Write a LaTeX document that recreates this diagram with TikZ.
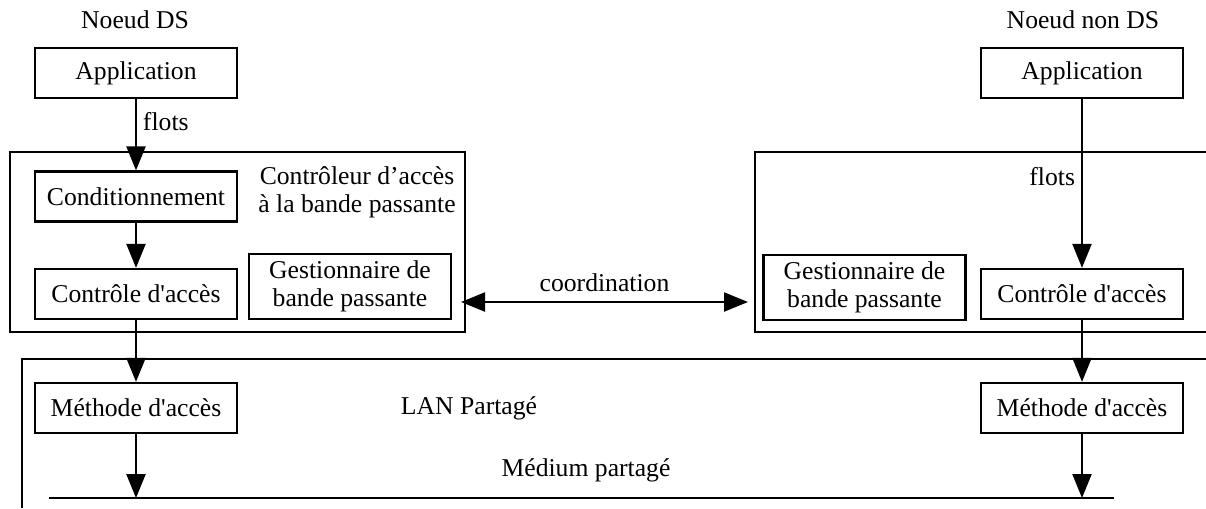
\documentclass[tikz,border=0pt]{standalone}
\usepackage{fontspec}
\setmainfont{Liberation Serif}
\usetikzlibrary{arrows.meta}
\newcommand{\apos}{\textquotesingle}
\tikzset{
  every node/.style={font=\fontsize{14.6}{16}\selectfont},
  bloc/.style={draw, line width=1.3pt, inner sep=0pt, minimum width=40.4mm,
    minimum height=10mm, align=center},
  blocgest/.style={bloc, minimum height=13mm},
  pointe/.tip={Triangle[length=4.8mm,width=3.8mm]},
  fleche/.style={line width=1.3pt, -pointe},
  cadre/.style={line width=1.3pt},
}
\begin{document}
\begin{tikzpicture}[x=0.2mm,y=-0.2mm]
\useasboundingbox (0,0) rectangle (1206,508);
% cadres
\draw[cadre] (10,152) rectangle (465,332);
\draw[cadre] (1206,152) -- (755,152) -- (755,332) -- (1206,332);
\draw[cadre] (1206,359) -- (22,359) -- (22,508);
% noeud DS
\node (titreA) at (135,20) {Noeud DS};
\node[bloc] (appA) at (136,73) {Application};
\node[bloc] (cond) at (136,196.5) {Conditionnement};
\node[bloc] (caA) at (136,294) {Contr\^ole d\apos acc\`es};
\node[blocgest] (gestA) at (350,286.5) {Gestionnaire de\\bande passante};
\node[bloc] (methA) at (136,408) {M\'ethode d\apos acc\`es};
\node[align=center] (ctrl) at (357,192) {Contr\^oleur d'acc\`es\\\`a la bande passante};
% noeud non DS
\node (titreB) at (1083,20) {Noeud non DS};
\node[bloc] (appB) at (1082,73) {Application};
\node[blocgest] (gestB) at (864.5,287.5) {Gestionnaire de\\bande passante};
\node[bloc] (caB) at (1082,294) {Contr\^ole d\apos acc\`es};
\node[bloc] (methB) at (1082,408) {M\'ethode d\apos acc\`es};
% LAN
\node (lan) at (469,408) {LAN Partag\'e};
\node (med) at (586,470) {M\'edium partag\'e};
\coordinate (medG) at (49,498);
\coordinate (medD) at (1114,498);
\draw[cadre] (medG) -- (medD);
\coordinate (coG) at (461,302);
\coordinate (coD) at (748,302);
% fleches
\draw[fleche] (appA) -- node[pos=0.32,right] {flots} (cond);
\draw[fleche] (cond) -- (caA);
\draw[fleche] (caA) -- (methA);
\draw[fleche] (methA) -- (methA.south |- medG);
\draw[fleche] (appB) -- node[pos=0.46,left] {flots} (caB);
\draw[fleche] (caB) -- (methB);
\draw[fleche] (methB) -- (methB.south |- medD);
\draw[fleche,pointe-pointe] (coG) -- node[above=2pt] {coordination} (coD);
\end{tikzpicture}
\end{document}
